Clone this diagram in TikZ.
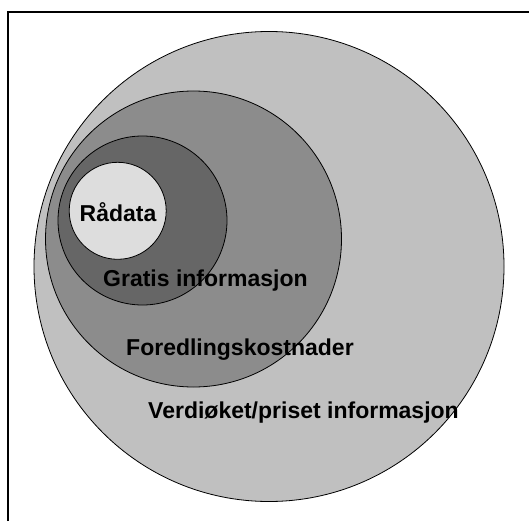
\documentclass[tikz,border=0pt]{standalone}
\usepackage{fontspec}
\setmainfont{Liberation Sans}
\definecolor{ringA}{HTML}{C0C0C0}
\definecolor{ringB}{HTML}{8C8C8C}
\definecolor{ringC}{HTML}{666666}
\definecolor{ringD}{HTML}{DDDDDD}
\begin{document}
\begin{tikzpicture}[x=1pt,y=-1pt,
  ring/.style={circle, draw=black, line width=0.8pt, inner sep=0pt},
  lbl/.style={anchor=base west, inner sep=0pt, font=\fontsize{23}{27}\selectfont\bfseries}]
\useasboundingbox (0,0) rectangle (529,521);
\coordinate (bl) at (8,521);
\coordinate (tl) at (8,12);
\coordinate (tr) at (529,12);
\draw[line width=2pt] (bl) -- (tl) -- (tr);
\node[ring, fill=ringA, minimum size=470pt] (outer) at (269,266.5) {};
\node[ring, fill=ringB, minimum size=296pt] (foredling) at (193.5,239) {};
\node[ring, fill=ringC, minimum size=169pt] (gratis) at (142.5,220.5) {};
\node[ring, fill=ringD, minimum size=97pt] (raa) at (117.7,210.8) {};
\node[lbl] (tRaa) at (79.5,221) {Rådata};
\node[lbl] (tGratis) at (103,286) {Gratis informasjon};
\node[lbl] (tFored) at (126,355) {Foredlingskostnader};
\node[lbl] (tVerdi) at (148,418) {Verdiøket/priset informasjon};
\end{tikzpicture}
\end{document}
